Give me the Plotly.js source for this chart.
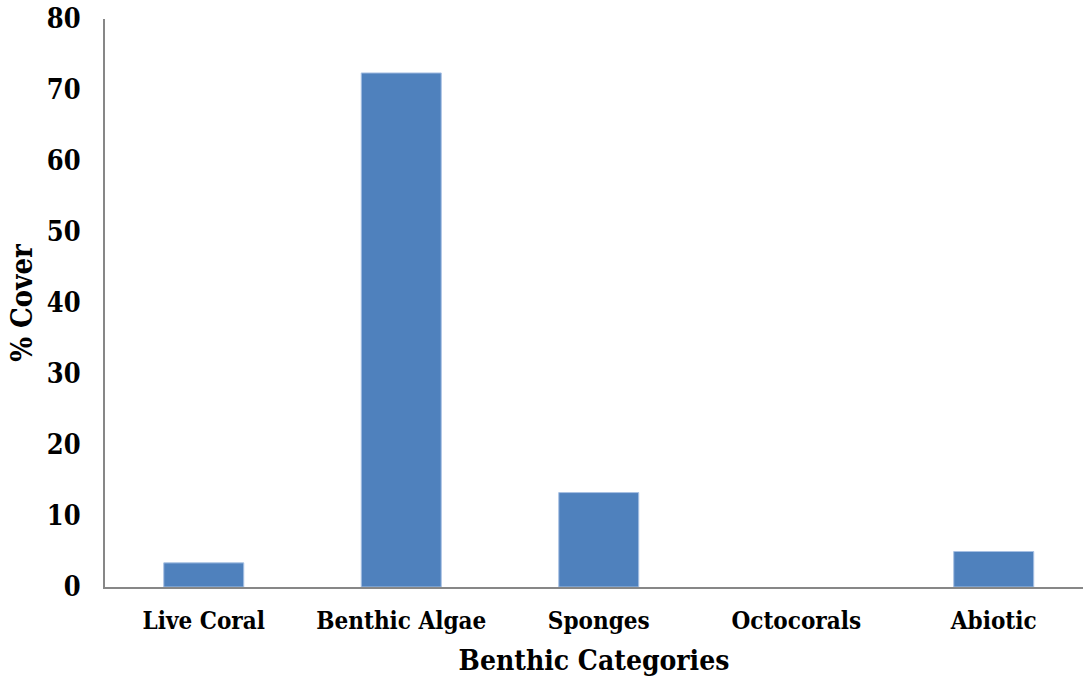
<!DOCTYPE html>
<html>
<head>
<meta charset="utf-8">
<script src="https://cdn.plot.ly/plotly-3.0.1.min.js"></script>
<style>html,body{margin:0;padding:0;background:#fff;overflow:hidden}#chart{width:1083px;height:681px}</style>
</head>
<body>
<div id="chart"></div>
<script>
const categories = ["Live Coral", "Benthic Algae", "Sponges", "Octocorals", "Abiotic"];
const cover = [3.4, 72.4, 13.3, 0, 5.0];
const yTicks = [0, 10, 20, 30, 40, 50, 60, 70, 80];

const FONT = "DejaVu Serif Condensed, DejaVu Serif, serif";

Plotly.newPlot("chart", [{
  type: "bar",
  x: categories,
  y: cover,
  marker: {color: "#4F81BD", line: {color: "#A7C0E3", width: cover.map(v => v > 0 ? 1 : 0)}},
  hoverinfo: "x+y"
}], {
  width: 1083,
  height: 681,
  margin: {l: 104.5, r: 0, t: 19, b: 93.5},
  paper_bgcolor: "#fff",
  plot_bgcolor: "#fff",
  bargap: 0.595,
  showlegend: false,
  font: {family: FONT, color: "#000"},
  xaxis: {
    range: [-0.5, 4.452],
    showline: true, linecolor: "#878787", linewidth: 2,
    showgrid: false, zeroline: false,
    ticks: "", ticklabelstandoff: 11,
    tickfont: {family: FONT, size: 24, color: "#000", weight: "bold"},
    title: {text: "<b>Benthic Categories</b>", font: {family: FONT, size: 28, color: "#000"}, standoff: 17}
  },
  yaxis: {
    range: [0, 80],
    tickvals: yTicks,
    showline: true, linecolor: "#878787", linewidth: 2,
    showgrid: false, zeroline: false,
    ticks: "", ticklabelstandoff: 17,
    tickfont: {family: FONT, size: 27, color: "#000", weight: "bold"},
    title: {text: "<b>% Cover</b>", font: {family: FONT, size: 29, color: "#000"}, standoff: 6}
  }
}, {displayModeBar: false, staticPlot: true});
</script>
</body>
</html>
